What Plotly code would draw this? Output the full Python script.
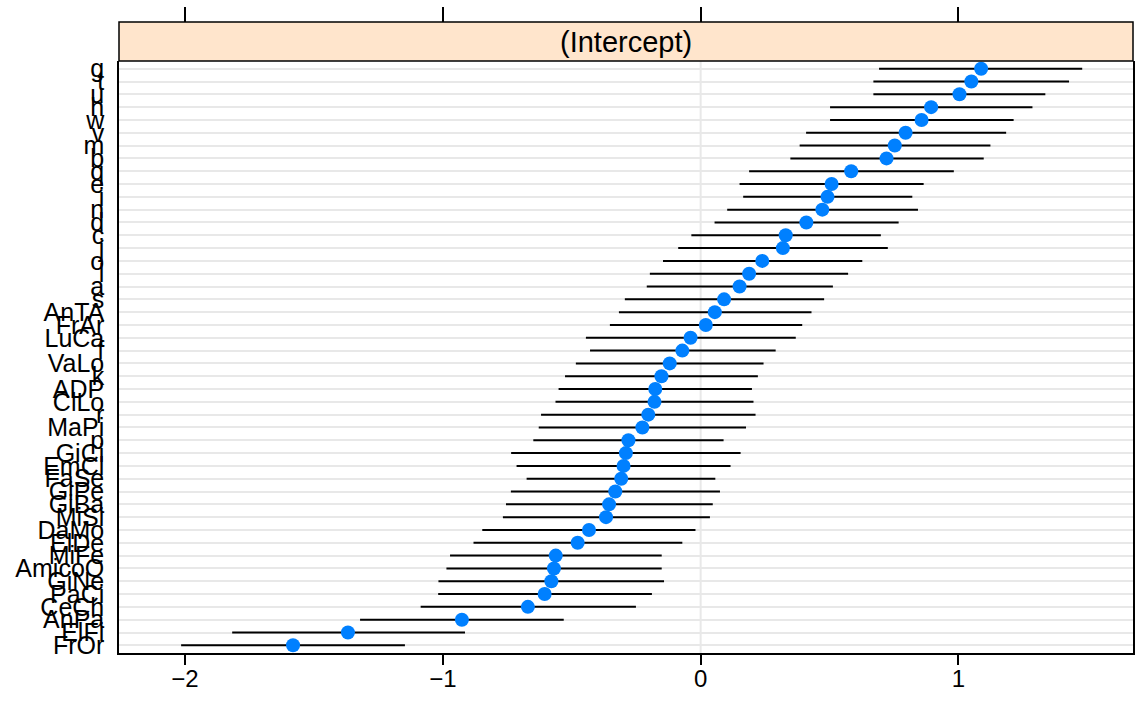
import plotly.graph_objects as go

# rows listed from top to bottom
labels = ["g", "t", "u", "h", "w", "v", "m", "b", "q", "e", "i", "n", "d", "c", "j",
          "o", "l", "a", "s", "AnTA", "FrAr", "LuCa", "f", "VaLo", "k", "ADP", "ClLo",
          "r", "MaPi", "p", "GiCi", "EmCl", "FaSe", "GiPe", "GiBa", "MiSi", "DaMo",
          "ElDe", "MiFe", "AmicoO", "GiNe", "PaCi", "CeCh", "AnPa", "ElFi", "FrOr"]
estimate = [1.088, 1.050, 1.004, 0.894, 0.857, 0.795, 0.753, 0.721, 0.584, 0.508,
            0.492, 0.472, 0.410, 0.330, 0.319, 0.239, 0.188, 0.151, 0.091, 0.055,
            0.020, -0.039, -0.071, -0.120, -0.152, -0.176, -0.179, -0.203, -0.226,
            -0.280, -0.290, -0.299, -0.308, -0.331, -0.355, -0.367, -0.433, -0.477,
            -0.562, -0.569, -0.579, -0.605, -0.670, -0.926, -1.368, -1.581]
lower = [0.692, 0.670, 0.670, 0.502, 0.502, 0.409, 0.384, 0.348, 0.188, 0.151,
         0.165, 0.103, 0.054, -0.036, -0.087, -0.146, -0.197, -0.209, -0.294, -0.317,
         -0.352, -0.445, -0.429, -0.484, -0.526, -0.551, -0.563, -0.619, -0.628,
         -0.649, -0.735, -0.714, -0.675, -0.736, -0.755, -0.767, -0.847, -0.881,
         -0.972, -0.986, -1.017, -1.018, -1.086, -1.321, -1.817, -2.015]
upper = [1.480, 1.429, 1.337, 1.287, 1.214, 1.185, 1.124, 1.098, 0.982, 0.865,
         0.821, 0.843, 0.768, 0.699, 0.726, 0.627, 0.572, 0.513, 0.479, 0.430,
         0.394, 0.369, 0.291, 0.244, 0.222, 0.199, 0.205, 0.213, 0.176, 0.089,
         0.155, 0.116, 0.057, 0.075, 0.047, 0.036, -0.020, -0.071, -0.151, -0.151,
         -0.142, -0.189, -0.251, -0.531, -0.914, -1.147]
x_ticks = [-2, -1, 0, 1]
x_ticktext = ["\u22122", "\u22121", "0", "1"]
strip_title = "(Intercept)"

n = len(labels)
ypos = [n - i for i in range(n)]

seg_x, seg_y = [], []
for lo, hi, y in zip(lower, upper, ypos):
    seg_x += [lo, hi, None]
    seg_y += [y, y, None]

FONT = "Liberation Sans, Arial, sans-serif"
W, H = 1137, 710
ml, mr, mt, mb = 119, 2, 22, 57
plot_h = H - mt - mb
strip_h = 39
ydom_top = 1 - strip_h / plot_h

fig = go.Figure()
fig.add_trace(go.Scatter(x=seg_x, y=seg_y, mode="lines",
                         line=dict(color="black", width=2), hoverinfo="skip",
                         showlegend=False))
fig.add_trace(go.Scatter(x=estimate, y=ypos, mode="markers",
                         marker=dict(color="#0080ff", size=14, line=dict(width=0)),
                         showlegend=False))
# invisible trace for top axis
fig.add_trace(go.Scatter(x=[x_ticks[0]], y=[1], xaxis="x2", yaxis="y",
                         mode="markers", marker=dict(opacity=0), showlegend=False,
                         hoverinfo="skip"))

xr = [-2.256, 1.677]
fig.update_layout(
    width=W, height=H,
    margin=dict(l=ml, r=mr, t=mt, b=mb),
    paper_bgcolor="white", plot_bgcolor="white",
    font=dict(family=FONT, size=24, color="black"),
    xaxis=dict(range=xr, domain=[0, 1], tickvals=x_ticks, ticktext=x_ticktext,
               ticks="outside", ticklen=10, tickwidth=1.5, tickcolor="black",
               showgrid=False, zeroline=False, showline=True, linecolor="black",
               linewidth=1.5, mirror=False, anchor="y", ticklabelstandoff=-7,
               tickfont=dict(size=24, family=FONT)),
    xaxis2=dict(range=xr, overlaying="x", side="top", anchor="free", position=1,
                tickvals=x_ticks, showticklabels=False, ticks="outside",
                ticklen=15, tickwidth=1.5, tickcolor="black", showgrid=False,
                zeroline=False, showline=False),
    yaxis=dict(range=[0.4, n + 0.6], domain=[0, ydom_top], tickvals=ypos,
               ticktext=labels, ticks="", showgrid=True, gridcolor="#e8e8e8",
               gridwidth=2, zeroline=False, showline=True, linecolor="black",
               linewidth=1.5, mirror=True, ticklabelstandoff=8,
               tickfont=dict(size=25, family=FONT)),
    shapes=[
        dict(type="line", xref="x", yref="paper", x0=0, x1=0, y0=0, y1=ydom_top,
             line=dict(color="#e8e8e8", width=2), layer="below"),
        dict(type="rect", xref="paper", yref="paper", x0=0, x1=1, y0=ydom_top, y1=1,
             fillcolor="#ffe5cc", line=dict(color="black", width=1.5), layer="above"),
    ],
    annotations=[
        dict(text=strip_title, xref="paper", yref="paper", x=0.5,
             y=(ydom_top + 1) / 2, showarrow=False, xanchor="center",
             yanchor="middle", font=dict(size=29, family=FONT)),
    ],
)

fig.write_html("out.html")
